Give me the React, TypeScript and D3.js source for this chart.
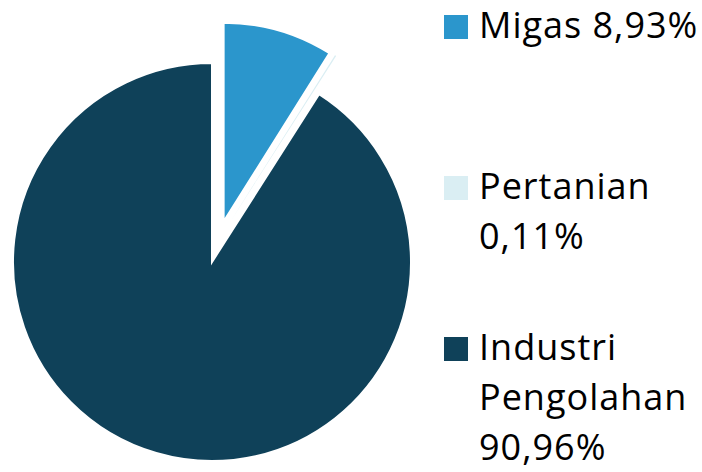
import React from "react";
import * as d3 from "d3";

const categories = ["Migas", "Pertanian", "Industri Pengolahan"];
const values = [8.93, 0.11, 90.96];
const labelLines = [["Migas 8,93%"], ["Pertanian", "0,11%"], ["Industri", "Pengolahan", "90,96%"]];
const colors = ["#2b96cc", "#daeef3", "#0f4159"];
const explode = [42, 42, 0];
const explodeAngle = [null, 24, null];

const W = 702;
const H = 472;

export default function App() {
  const cx = 212;
  const cy = 262;
  const r = 199;
  const pie = d3.pie<number>().sort(null).value((d) => d)(values);
  const arc = d3.arc<d3.PieArcDatum<number>>().innerRadius(0).outerRadius(r);

  const legendX = 444;
  const legendY = [15, 176, 337];
  const sq = 24;
  const lineH = 50;

  return (
    <svg width={W} height={H} style={{ position: "fixed", left: 0, top: 0 }}>
      <rect width={W} height={H} fill="#fff" />
      <g transform={`translate(${cx},${cy})`}>
        {pie.map((p, i) => {
          const mid = explodeAngle[i] != null ? ((explodeAngle[i] as number) * Math.PI) / 180 : (p.startAngle + p.endAngle) / 2;
          const dx = Math.sin(mid) * explode[i];
          const dy = -Math.cos(mid) * explode[i];
          return (
            <path
              key={categories[i]}
              d={arc(p) || ""}
              transform={`translate(${dx},${dy})`}
              fill={colors[i]}
              stroke={i === 1 ? "none" : "#fff"}
              strokeWidth={2}
              strokeLinejoin="miter"
            />
          );
        })}
      </g>
      {categories.map((c, i) => (
        <g key={c}>
          <rect x={legendX} y={legendY[i]} width={sq} height={sq} fill={colors[i]} />
          <text
            x={legendX + 35}
            y={legendY[i] + 23}
            fontFamily="'Open Sans', sans-serif"
            fontSize={36}
            letterSpacing={1}
            fill="#000"
          >
            {labelLines[i].map((l, j) => (
              <tspan key={j} x={legendX + 35} y={legendY[i] + 23 + j * lineH}>
                {l}
              </tspan>
            ))}
          </text>
        </g>
      ))}
    </svg>
  );
}
